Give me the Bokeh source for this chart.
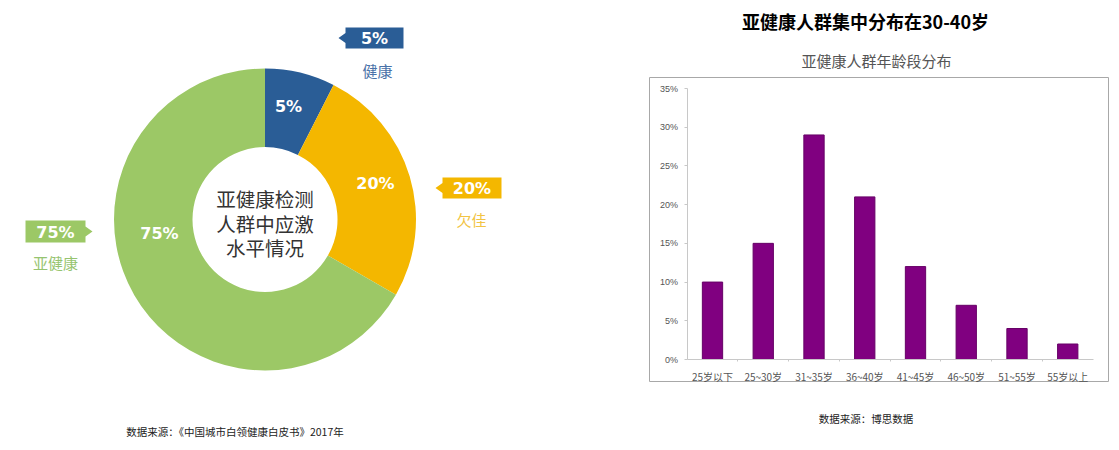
import math
from bokeh.plotting import figure
from bokeh.models import Range1d, FixedTicker, PrintfTickFormatter, LinearAxis, ColumnDataSource
from bokeh.embed import file_html
from bokeh.resources import INLINE
from bokeh.core.properties import value

# ---------------- data ----------------
donut_categories = ["健康", "欠佳", "亚健康"]
donut_labels = ["5%", "20%", "75%"]
# arc shares as they are drawn in the reference graphic (its arcs are not to scale with the printed labels)
donut_arc_shares = [7.5, 25.8, 66.7]
donut_colors = ["#2a5d96", "#f4b700", "#9cc866"]
donut_cat_colors = ["#4a72a8", "#f2c443", "#96c470"]
center_lines = ["亚健康检测", "人群中应激", "水平情况"]
left_source = "数据来源：《中国城市白领健康白皮书》2017年"

age_groups = ["25岁以下", "25~30岁", "31~35岁", "36~40岁", "41~45岁", "46~50岁", "51~55岁", "55岁以上"]
age_shares = [10, 15, 29, 21, 12, 7, 4, 2]
y_ticks = [0, 5, 10, 15, 20, 25, 30, 35]
bar_title = "亚健康人群集中分布在30-40岁"
bar_subtitle = "亚健康人群年龄段分布"
right_source = "数据来源：博思数据"

CJK = value("Noto Sans CJK SC")

# ---------------- canvas in page-pixel coordinates ----------------
W, H = 1112, 442


def P(px, py):
    """page pixel -> data coordinates of the base ranges (y up)"""
    return px, -py


# bar-chart scales (layout of the bar panel in page pixels)
X0_PAGE, X_STEP = 712.0, 50.75              # first category centre, category pitch
Y0_PAGE, Y_PX = 359.0, (359 - 88) / 35.0    # 0% baseline, px per percentage point

p = figure(width=W, height=H, output_backend="svg", toolbar_location=None,
           x_range=Range1d(0, W), y_range=Range1d(-H, 0),
           x_axis_location=None, y_axis_location=None, min_border=0)
p.outline_line_color = None
p.grid.visible = False
p.background_fill_color = "white"
p.border_fill_color = "white"

p.extra_x_ranges = {"bx": Range1d((0 - X0_PAGE) / X_STEP, (W - X0_PAGE) / X_STEP)}
p.extra_y_ranges = {"by": Range1d(-(H - Y0_PAGE) / Y_PX, (Y0_PAGE - 0) / Y_PX)}

# ---------------- left: donut ----------------
CX, CY = 264.5, 219.0
R_OUT, R_IN = 151.0, 72.5
cx, cy = P(CX, CY)

total = sum(donut_arc_shares)
starts, ends, cum = [], [], 0.0
for s in donut_arc_shares:
    starts.append(math.pi / 2 - 2 * math.pi * cum / total)
    cum += s
    ends.append(math.pi / 2 - 2 * math.pi * cum / total)
wsrc = ColumnDataSource(dict(start=starts, end=ends, color=donut_colors,
                             x=[cx] * len(starts), y=[cy] * len(starts)))
p.annular_wedge(x="x", y="y", inner_radius=R_IN, outer_radius=R_OUT, start_angle="start",
                end_angle="end", direction="clock", fill_color="color", line_color=None, source=wsrc)

slice_pos = [P(288, 106), P(375, 183), P(159, 233)]
p.text(x=[q[0] for q in slice_pos], y=[q[1] for q in slice_pos], text=donut_labels,
       text_align="center", text_baseline="middle", text_color="white",
       text_font=value("DejaVu Sans"), text_font_style="bold", text_font_size="16px")

line_y = [198, 223, 247]
p.text(x=[CX] * len(center_lines), y=[P(0, v)[1] for v in line_y], text=center_lines,
       text_align="center", text_baseline="middle",
       text_color="#333333", text_font=CJK, text_font_size="19.5px")

boxes = [(345, 403, 27, 48, "left"), (442, 501, 177, 198, "left"), (25, 85, 220, 242, "right")]
xs, ys, tx, ty = [], [], [], []
for x0, x1, y0, y1, side in boxes:
    ym = (y0 + y1) / 2
    if side == "left":
        pts = [(x0, y0), (x1, y0), (x1, y1), (x0, y1), (x0, ym + 5), (x0 - 7, ym), (x0, ym - 5)]
    else:
        pts = [(x0, y0), (x1, y0), (x1, ym - 5), (x1 + 7, ym), (x1, ym + 5), (x1, y1), (x0, y1)]
    xs.append([P(*q)[0] for q in pts])
    ys.append([P(*q)[1] for q in pts])
    tx.append(P((x0 + x1) / 2, 0)[0])
    ty.append(P(0, ym + 0.5)[1])
p.patches(xs, ys, fill_color=donut_colors, line_color=None)
p.text(x=tx, y=ty, text=donut_labels, text_align="center", text_baseline="middle",
       text_color="white", text_font=value("DejaVu Sans"), text_font_style="bold", text_font_size="16px")

cat_pos = [P(377, 70), P(471, 219), P(55, 262)]
p.text(x=[q[0] for q in cat_pos], y=[q[1] for q in cat_pos], text=donut_categories,
       text_align="center", text_baseline="middle", text_color=donut_cat_colors,
       text_font=CJK, text_font_size="15px")

sp = P(234.5, 431)
p.text(x=[sp[0]], y=[sp[1]], text=[left_source], text_align="center", text_baseline="middle",
       text_color="#222222", text_font=CJK, text_font_size="10.5px")

# ---------------- right: bar chart ----------------
t1 = P(865, 20)
p.text(x=[t1[0]], y=[t1[1]], text=[bar_title], text_align="center", text_baseline="middle",
       text_color="#000000", text_font=CJK, text_font_style="bold", text_font_size="18px")
t2 = P(876, 60)
p.text(x=[t2[0]], y=[t2[1]], text=[bar_subtitle], text_align="center", text_baseline="middle",
       text_color="#555555", text_font=CJK, text_font_size="15px")
t3 = P(865.5, 418)
p.text(x=[t3[0]], y=[t3[1]], text=[right_source], text_align="center", text_baseline="middle",
       text_color="#222222", text_font=CJK, text_font_size="10.5px")

# chart box
bl, bt = P(649, 77)
br, bb = P(1108, 381)
p.quad(left=[bl], right=[br], top=[bt], bottom=[bb], fill_color=None, line_color="#a8a8a8", line_width=1)

idx = list(range(len(age_groups)))
p.vbar(x=idx, top=age_shares, bottom=0, width=0.4, fill_color="#800080", line_color="#660066",
       x_range_name="bx", y_range_name="by")

yaxis = LinearAxis(x_range_name="bx", y_range_name="by", fixed_location=-0.5, bounds=(0, 35),
                   ticker=FixedTicker(ticks=y_ticks), formatter=PrintfTickFormatter(format="%d%%"))
yaxis.axis_line_color = "#c8c8c8"
yaxis.major_tick_line_color = "#c8c8c8"
yaxis.major_tick_out = 3
yaxis.major_tick_in = 0
yaxis.minor_tick_line_color = None
yaxis.major_label_standoff = 6
yaxis.major_label_text_font = "Liberation Sans"
yaxis.major_label_text_font_size = "9px"
yaxis.major_label_text_color = "#555555"
p.add_layout(yaxis, "left")

xaxis = LinearAxis(x_range_name="bx", y_range_name="by", fixed_location=0,
                   bounds=(-0.5, len(age_groups) - 0.5),
                   ticker=FixedTicker(ticks=idx, minor_ticks=[i + 0.5 for i in idx[:-1]]),
                   major_label_overrides={i: g for i, g in zip(idx, age_groups)})
xaxis.axis_line_color = "#c8c8c8"
xaxis.major_tick_line_color = None
xaxis.major_tick_out = 0
xaxis.major_tick_in = 0
xaxis.minor_tick_line_color = "#c8c8c8"
xaxis.minor_tick_out = 2
xaxis.minor_tick_in = 0
xaxis.major_label_standoff = 7
xaxis.major_label_text_font = "Noto Sans CJK SC"
xaxis.major_label_text_font_size = "10px"
xaxis.major_label_text_color = "#555555"
p.add_layout(xaxis, "below")

open("out.html", "w").write(file_html(p, INLINE))
